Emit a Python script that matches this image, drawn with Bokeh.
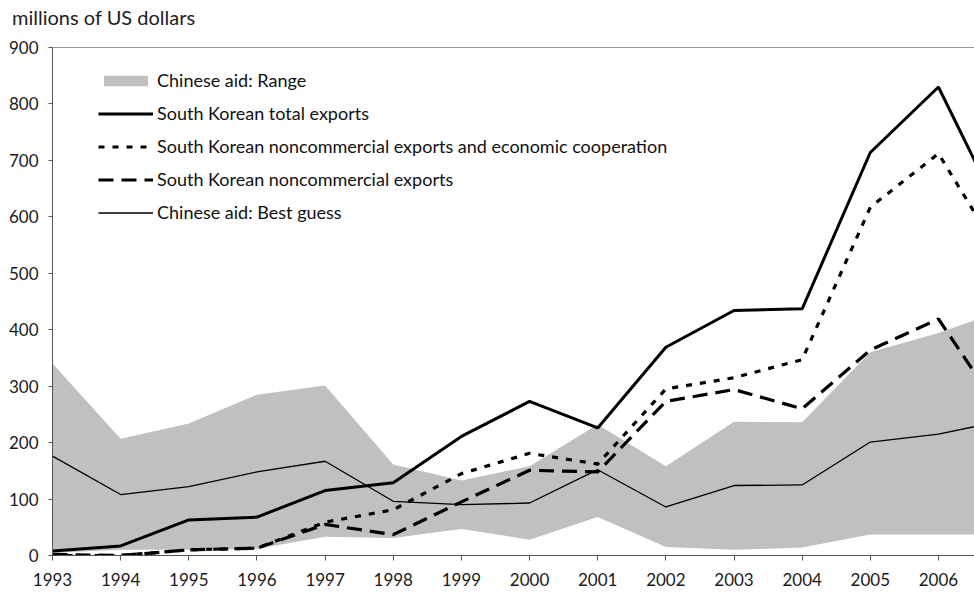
from bokeh.plotting import figure
from bokeh.models import Range1d, Span, Legend, LegendItem, FixedTicker, Div
from bokeh.layouts import column
from bokeh.embed import file_html
from bokeh.resources import INLINE

years = list(range(1993, 2008))
range_low = [5, 10, 10, 12, 33, 31, 47, 28, 68, 15, 10, 14, 37, 37, 37]
range_high = [340, 207, 234, 285, 301, 161, 133, 158, 232, 158, 237, 236, 360, 394, 437]
best_guess = [176, 108, 122, 148, 167, 96, 90, 93, 152, 86, 124, 125, 201, 215, 240]
total_exports = [8, 17, 63, 68, 115, 129, 211, 273, 226, 369, 434, 437, 714, 830, 584]
noncomm_econ = [0, 0, 10, 13, 59, 81, 145, 181, 162, 295, 315, 347, 617, 712, 515]
noncomm = [2, 0, 10, 13, 55, 37, 95, 151, 148, 273, 294, 260, 364, 419, 240]
y_ticks = [0, 100, 200, 300, 400, 500, 600, 700, 800, 900]
unit_label = "millions of US dollars"

FONT = "Lato"

head = Div(text=unit_label, width=962, height=34, margin=(0, 0, 0, 12),
           styles={"font-family": FONT, "font-size": "20px", "line-height": "34px",
                   "color": "#222222"})

p = figure(width=974, height=558, output_backend="svg", toolbar_location=None,
           x_range=Range1d(1993, 1993 + 922 / 68.15), y_range=Range1d(0, 900),
           min_border_left=52, min_border_top=13, min_border_bottom=37, min_border_right=0)
p.outline_line_color = None
p.xgrid.grid_line_color = None
p.ygrid.grid_line_color = None
p.background_fill_color = "white"

r_range = p.varea(x=years, y1=range_low, y2=range_high, fill_color="#c0c0c0")
r_best = p.line(years, best_guess, line_color="black", line_width=1.3)
r_nc = p.line(years, noncomm, line_color="black", line_width=3.2, line_dash="15 8")
r_nce = p.line(years, noncomm_econ, line_color="black", line_width=3.2, line_dash="6 8")
r_tot = p.line(years, total_exports, line_color="black", line_width=3)

p.add_layout(Span(location=900, dimension="width", line_color="#333333", line_width=1))

for ax in (p.xaxis[0], p.yaxis[0]):
    ax.axis_line_color = "#555555"
    ax.major_tick_line_color = "#555555"
    ax.minor_tick_line_color = None
    ax.major_label_text_font = FONT
    ax.major_label_text_font_size = "17px"
    ax.major_label_text_color = "#1a1a1a"
    ax.major_tick_in = 0

p.xaxis.ticker = FixedTicker(ticks=years[:-1])
p.xaxis.major_tick_out = 5
p.xaxis.major_label_standoff = 12
p.yaxis.ticker = FixedTicker(ticks=y_ticks)
p.yaxis.major_tick_out = 4
p.yaxis.major_label_standoff = 10

legend = Legend(items=[
    LegendItem(label="Chinese aid: Range", renderers=[r_range]),
    LegendItem(label="South Korean total exports", renderers=[r_tot]),
    LegendItem(label="South Korean noncommercial exports and economic cooperation", renderers=[r_nce]),
    LegendItem(label="South Korean noncommercial exports", renderers=[r_nc]),
    LegendItem(label="Chinese aid: Best guess", renderers=[r_best]),
], location=(46, 332))
legend.glyph_width = 55
legend.glyph_height = 13
legend.label_height = 22
legend.spacing = 11
legend.padding = 0
legend.margin = 0
legend.label_standoff = 4
legend.border_line_color = None
legend.background_fill_alpha = 0
legend.label_text_font = FONT
legend.label_text_font_size = "18px"
legend.label_text_color = "#111111"
p.add_layout(legend, "center")

layout = column(head, p, spacing=0)
open("out.html", "w").write(file_html(layout, INLINE))
